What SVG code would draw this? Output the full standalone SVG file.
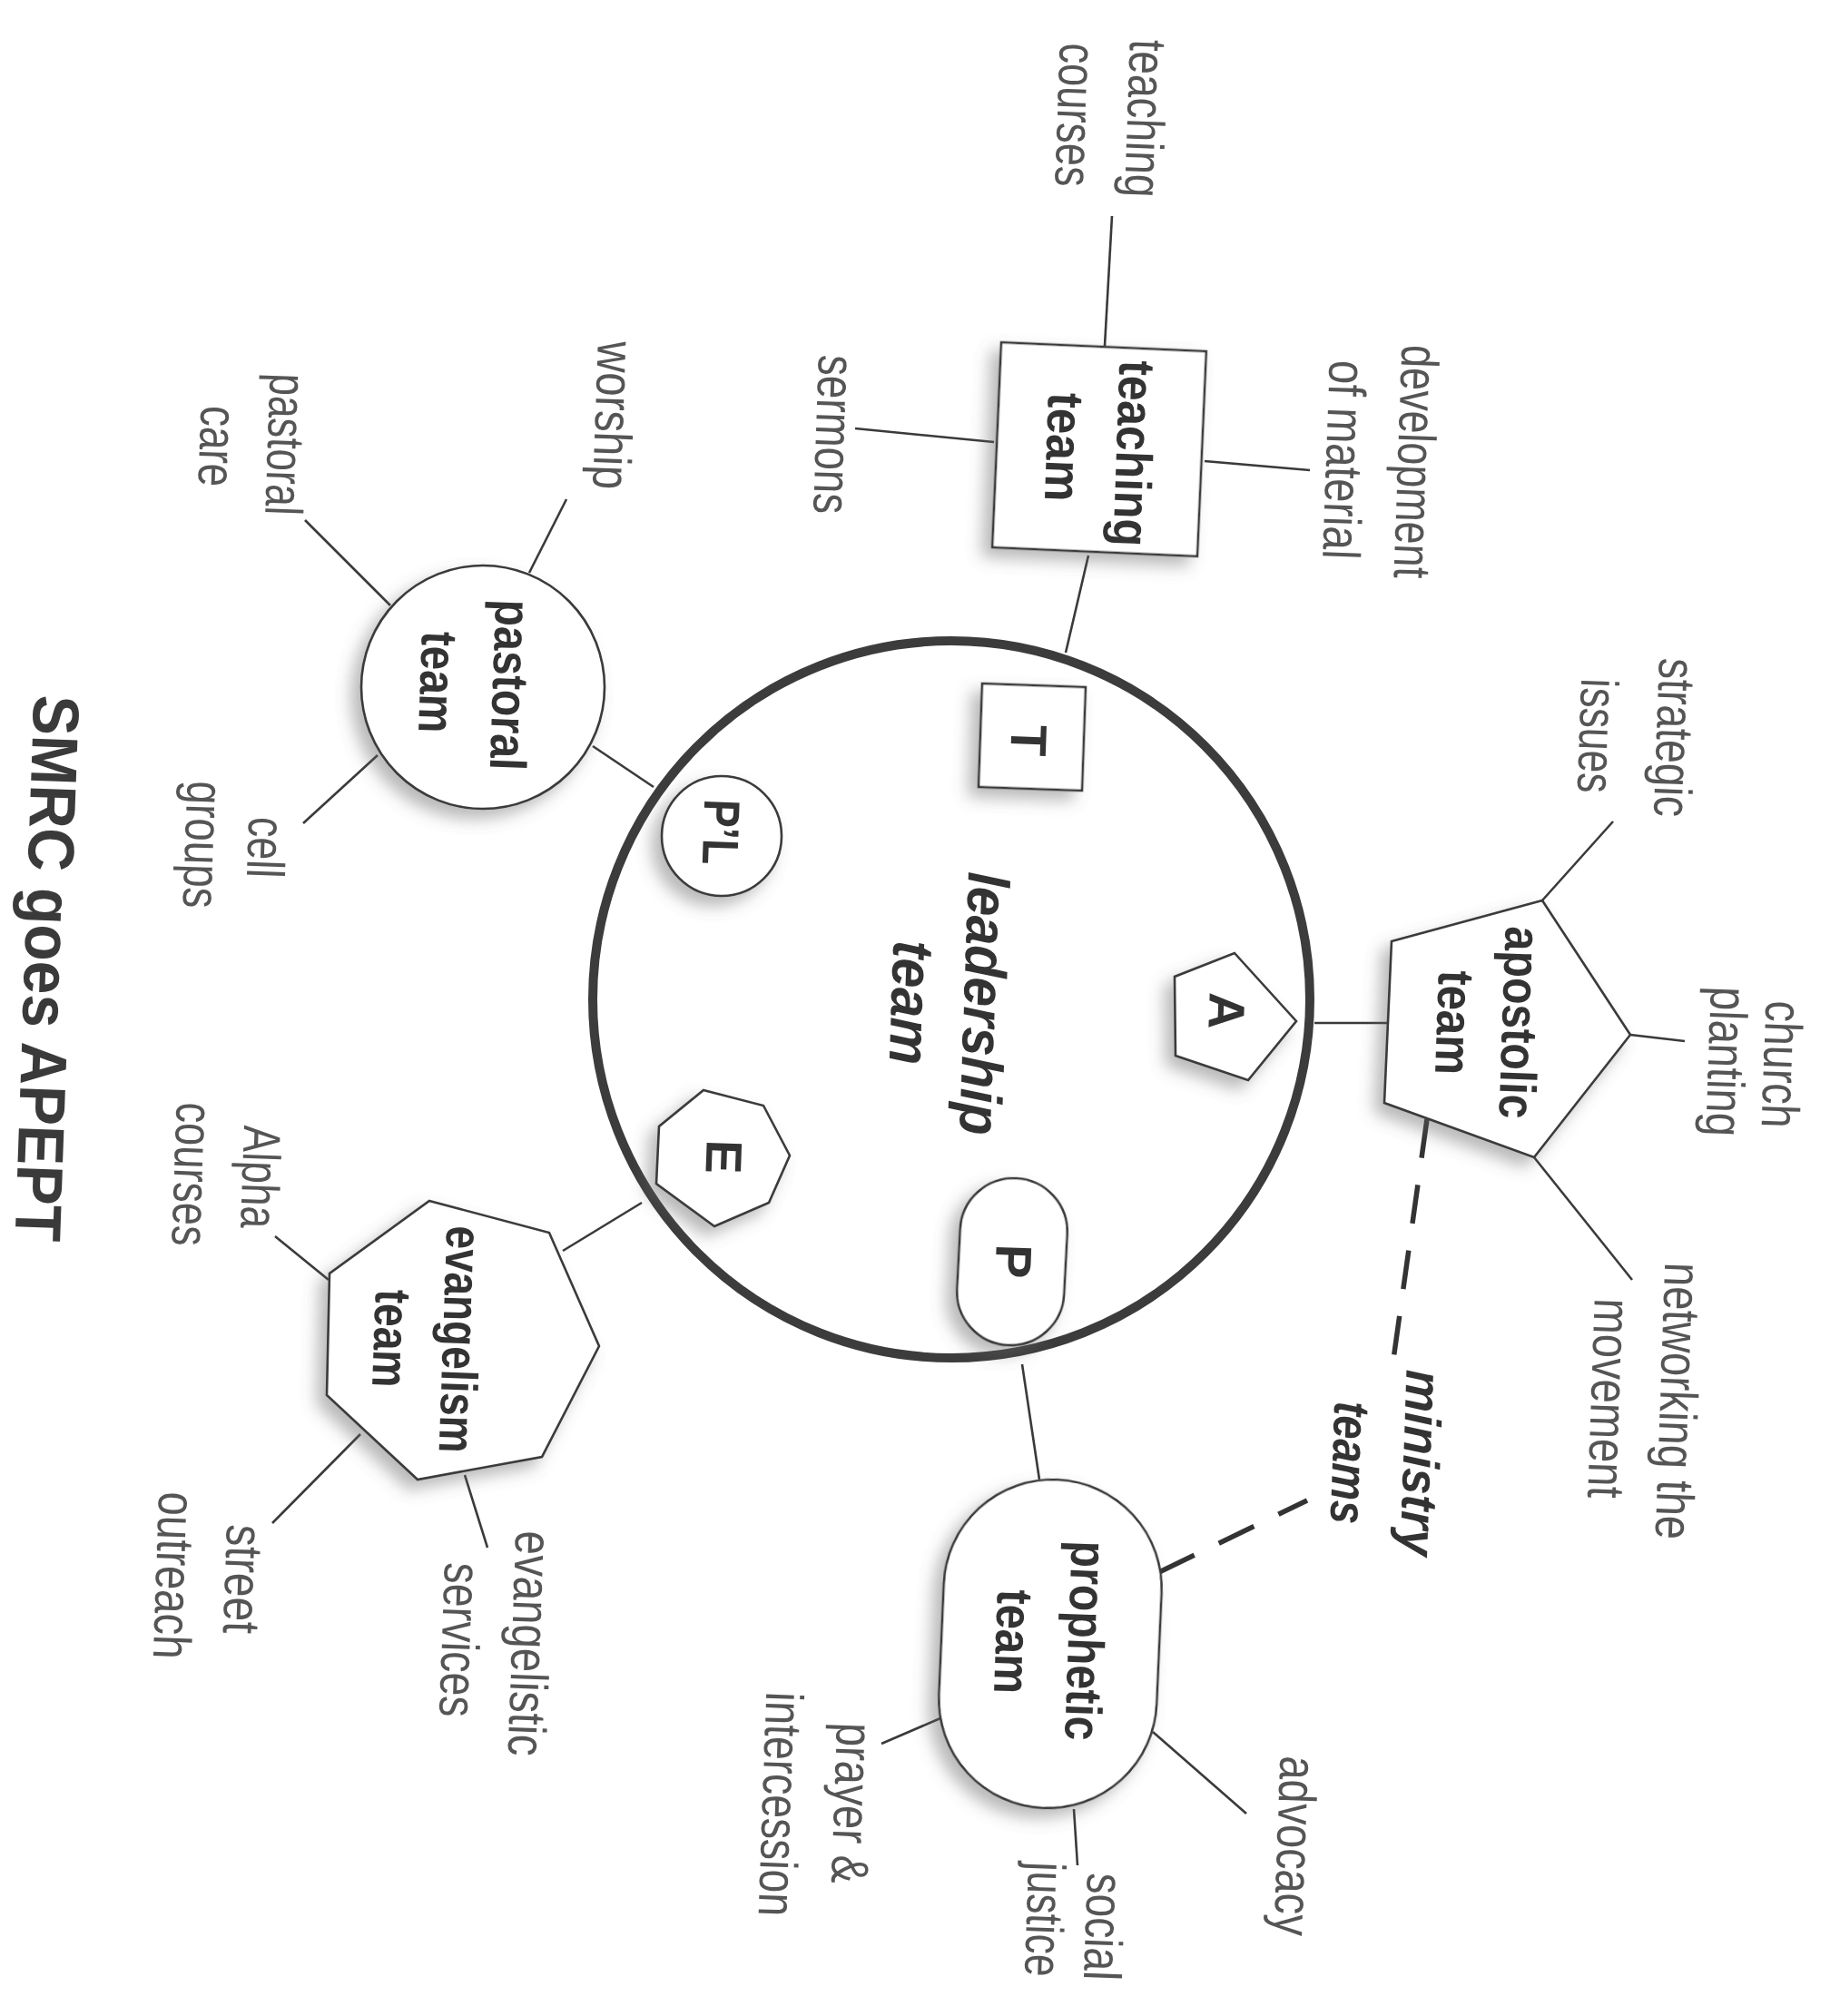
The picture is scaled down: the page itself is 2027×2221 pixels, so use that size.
<svg xmlns="http://www.w3.org/2000/svg" width="2027" height="2221" viewBox="0 0 2027 2221">
<style>
.ln{stroke:#3a3a3a;stroke-width:2.6;fill:none}
.dash{stroke:#333;stroke-width:5.5;fill:none;stroke-dasharray:43 30}
.shp{fill:#fff;stroke:#3a3a3a;stroke-width:2.6;filter:url(#sh)}
.lbl{font-family:"Liberation Sans",Arial,sans-serif;font-size:58px;fill:#555}
.nd{font-family:"Liberation Sans",Arial,sans-serif;font-size:56px;font-weight:bold;fill:#333}
.it{font-family:"Liberation Sans",Arial,sans-serif;font-weight:bold;font-style:italic;fill:#333}
.ttl{font-family:"Liberation Sans",Arial,sans-serif;font-size:72px;font-weight:bold;fill:#3a3a3a}
</style>
<defs>
<filter id="sh" x="-40%" y="-40%" width="180%" height="180%">
<feDropShadow dx="-10" dy="10" stdDeviation="9" flood-color="#606060" flood-opacity="0.45"/>
</filter>
</defs>
<rect width="2027" height="2221" fill="#fff"/>

<g id="connectors">
<path class="ln" d="M1199 612 L1174 719"/>
<path class="ln" d="M1217 381 L1225 238"/>
<path class="ln" d="M1095 487 L942 472"/>
<path class="ln" d="M1327 508 L1443 518"/>
<path class="ln" d="M653 822 L720 867"/>
<path class="ln" d="M583 631 L624 550"/>
<path class="ln" d="M430 667 L336 573"/>
<path class="ln" d="M416 832 L334 907"/>
<path class="ln" d="M620 1378 L707 1325"/>
<path class="ln" d="M362 1410 L303 1362"/>
<path class="ln" d="M397 1580 L300 1678"/>
<path class="ln" d="M512 1625 L537 1705"/>
<path class="ln" d="M1145 1630 L1126 1503"/>
<path class="ln" d="M1270 1908 L1373 1998"/>
<path class="ln" d="M1183 1993 L1187 2055"/>
<path class="ln" d="M1036 1893 L971 1921"/>
<path class="ln" d="M1448 1127 L1528 1127"/>
<path class="ln" d="M1699 992 L1777 905"/>
<path class="ln" d="M1796 1140 L1856 1147"/>
<path class="ln" d="M1690 1275 L1798 1410"/>
<path class="dash" d="M1572 1233 L1535 1498"/>
<path class="dash" d="M1277 1732 L1440 1653"/>
</g>

<g id="n-leadership">
<circle cx="1048" cy="1101" r="395" fill="#fff" stroke="#3c3c3c" stroke-width="10"/>
<text class="it" font-size="64" text-anchor="middle" transform="translate(1062 1105) rotate(92)" textLength="290" lengthAdjust="spacingAndGlyphs">leadership</text>
<text class="it" font-size="64" text-anchor="middle" transform="translate(982 1104) rotate(92)" textLength="137" lengthAdjust="spacingAndGlyphs">team</text>
</g>

<g id="n-T">
<rect class="shp" x="-57" y="-57" width="114" height="114" transform="translate(1137 812) rotate(2)"/>
<text class="nd" font-size="58" text-anchor="middle" transform="translate(1114 815) rotate(92)">T</text>
</g>
<g id="n-PL">
<circle class="shp" cx="795" cy="921" r="66"/>
<text class="nd" font-size="48" text-anchor="middle" transform="translate(775 916) rotate(92)" textLength="72" lengthAdjust="spacingAndGlyphs">P’L</text>
</g>
<g id="n-A">
<polygon class="shp" points="1360,1050 1428,1125 1375,1190 1295,1163 1294,1076"/>
<text class="nd" font-size="54" text-anchor="middle" transform="translate(1332 1113) rotate(92)">A</text>
</g>
<g id="n-E">
<polygon class="shp" points="775,1201 841,1218 870,1273 847,1325 787,1351 723,1304 726,1241"/>
<text class="nd" font-size="56" text-anchor="middle" transform="translate(778 1274) rotate(92)">E</text>
</g>
<g id="n-P">
<rect class="shp" x="-59" y="-92" width="118" height="184" rx="59" ry="59" transform="translate(1115 1390) rotate(3)"/>
<text class="nd" font-size="56" text-anchor="middle" transform="translate(1097 1389) rotate(92)">P</text>
</g>

<g id="n-teaching">
<rect class="shp" x="-113" y="-113" width="226" height="226" transform="translate(1211 495) rotate(2.5)"/>
<text class="nd" text-anchor="middle" transform="translate(1230 499) rotate(92)" textLength="205" lengthAdjust="spacingAndGlyphs">teaching</text>
<text class="nd" text-anchor="middle" transform="translate(1153 492) rotate(92)" textLength="120" lengthAdjust="spacingAndGlyphs">team</text>
</g>
<g id="n-pastoral">
<circle class="shp" cx="532" cy="757" r="134"/>
<text class="nd" text-anchor="middle" transform="translate(543 754) rotate(92)" textLength="188" lengthAdjust="spacingAndGlyphs">pastoral</text>
<text class="nd" text-anchor="middle" transform="translate(463 751) rotate(92)" textLength="112" lengthAdjust="spacingAndGlyphs">team</text>
</g>
<g id="n-evangelism">
<polygon class="shp" points="473,1323 605,1358 660,1483 597,1605 460,1630 360,1537 363,1403"/>
<text class="nd" text-anchor="middle" transform="translate(488 1475) rotate(92)" textLength="250" lengthAdjust="spacingAndGlyphs">evangelism</text>
<text class="nd" text-anchor="middle" transform="translate(412 1474) rotate(92)" textLength="108" lengthAdjust="spacingAndGlyphs">team</text>
</g>
<g id="n-prophetic">
<rect class="shp" x="-120" y="-181" width="240" height="362" rx="120" ry="120" transform="translate(1157 1811) rotate(2.5)"/>
<text class="nd" text-anchor="middle" transform="translate(1177 1807) rotate(92)" textLength="220" lengthAdjust="spacingAndGlyphs">prophetic</text>
<text class="nd" text-anchor="middle" transform="translate(1097 1808) rotate(92)" textLength="115" lengthAdjust="spacingAndGlyphs">team</text>
</g>
<g id="n-apostolic">
<polygon class="shp" points="1699,992 1796,1140 1690,1275 1525,1215 1533,1037"/>
<text class="nd" text-anchor="middle" transform="translate(1655 1126) rotate(92)" textLength="212" lengthAdjust="spacingAndGlyphs">apostolic</text>
<text class="nd" text-anchor="middle" transform="translate(1583 1126) rotate(92)" textLength="115" lengthAdjust="spacingAndGlyphs">team</text>
</g>

<g id="ministry-teams">
<text class="it" font-size="56" text-anchor="middle" transform="translate(1546 1611) rotate(92)" textLength="205" lengthAdjust="spacingAndGlyphs">ministry</text>
<text class="it" font-size="56" text-anchor="middle" transform="translate(1468 1611) rotate(92)" textLength="135" lengthAdjust="spacingAndGlyphs">teams</text>
</g>

<g id="leaf-teaching-courses">
<text class="lbl" text-anchor="middle" transform="translate(1242 130) rotate(92)" textLength="174" lengthAdjust="spacingAndGlyphs">teaching</text>
<text class="lbl" text-anchor="middle" transform="translate(1165 126) rotate(92)" textLength="158" lengthAdjust="spacingAndGlyphs">courses</text>
</g>
<g id="leaf-development">
<text class="lbl" text-anchor="middle" transform="translate(1540 508) rotate(92)" textLength="257" lengthAdjust="spacingAndGlyphs">development</text>
<text class="lbl" text-anchor="middle" transform="translate(1461 506) rotate(92)" textLength="219" lengthAdjust="spacingAndGlyphs">of material</text>
</g>
<g id="leaf-sermons">
<text class="lbl" text-anchor="middle" transform="translate(899 478) rotate(92)" textLength="175" lengthAdjust="spacingAndGlyphs">sermons</text>
</g>
<g id="leaf-worship">
<text class="lbl" text-anchor="middle" transform="translate(656 457) rotate(92)" textLength="163" lengthAdjust="spacingAndGlyphs">worship</text>
</g>
<g id="leaf-pastoral-care">
<text class="lbl" text-anchor="middle" transform="translate(295 489) rotate(92)" textLength="156" lengthAdjust="spacingAndGlyphs">pastoral</text>
<text class="lbl" text-anchor="middle" transform="translate(220 491) rotate(92)" textLength="89" lengthAdjust="spacingAndGlyphs">care</text>
</g>
<g id="leaf-cell-groups">
<text class="lbl" text-anchor="middle" transform="translate(273 933) rotate(92)" textLength="67" lengthAdjust="spacingAndGlyphs">cell</text>
<text class="lbl" text-anchor="middle" transform="translate(204 930) rotate(92)" textLength="140" lengthAdjust="spacingAndGlyphs">groups</text>
</g>
<g id="leaf-alpha">
<text class="lbl" text-anchor="middle" transform="translate(267 1296) rotate(92)" textLength="113" lengthAdjust="spacingAndGlyphs">Alpha</text>
<text class="lbl" text-anchor="middle" transform="translate(192 1293) rotate(92)" textLength="158" lengthAdjust="spacingAndGlyphs">courses</text>
</g>
<g id="leaf-street">
<text class="lbl" text-anchor="middle" transform="translate(248 1739) rotate(92)" textLength="120" lengthAdjust="spacingAndGlyphs">street</text>
<text class="lbl" text-anchor="middle" transform="translate(172 1735) rotate(92)" textLength="184" lengthAdjust="spacingAndGlyphs">outreach</text>
</g>
<g id="leaf-evangelistic">
<text class="lbl" text-anchor="middle" transform="translate(564 1810) rotate(92)" textLength="248" lengthAdjust="spacingAndGlyphs">evangelistic</text>
<text class="lbl" text-anchor="middle" transform="translate(487 1806) rotate(92)" textLength="170" lengthAdjust="spacingAndGlyphs">services</text>
</g>
<g id="leaf-prayer">
<text class="lbl" text-anchor="middle" transform="translate(919 1986) rotate(92)" textLength="177" lengthAdjust="spacingAndGlyphs">prayer &amp;</text>
<text class="lbl" text-anchor="middle" transform="translate(840 1987) rotate(92)" textLength="247" lengthAdjust="spacingAndGlyphs">intercession</text>
</g>
<g id="leaf-advocacy">
<text class="lbl" text-anchor="middle" transform="translate(1407 2033) rotate(92)" textLength="198" lengthAdjust="spacingAndGlyphs">advocacy</text>
</g>
<g id="leaf-social">
<text class="lbl" text-anchor="middle" transform="translate(1196 2122) rotate(92)" textLength="118" lengthAdjust="spacingAndGlyphs">social</text>
<text class="lbl" text-anchor="middle" transform="translate(1131 2114) rotate(92)" textLength="126" lengthAdjust="spacingAndGlyphs">justice</text>
</g>
<g id="leaf-church">
<text class="lbl" text-anchor="middle" transform="translate(1943 1172) rotate(92)" textLength="140" lengthAdjust="spacingAndGlyphs">church</text>
<text class="lbl" text-anchor="middle" transform="translate(1882 1169) rotate(92)" textLength="165" lengthAdjust="spacingAndGlyphs">planting</text>
</g>
<g id="leaf-networking">
<text class="lbl" text-anchor="middle" transform="translate(1829 1543) rotate(92)" textLength="305" lengthAdjust="spacingAndGlyphs">networking the</text>
<text class="lbl" text-anchor="middle" transform="translate(1753 1540) rotate(92)" textLength="220" lengthAdjust="spacingAndGlyphs">movement</text>
</g>
<g id="leaf-strategic">
<text class="lbl" text-anchor="middle" transform="translate(1825 812) rotate(92)" textLength="175" lengthAdjust="spacingAndGlyphs">strategic</text>
<text class="lbl" text-anchor="middle" transform="translate(1740 810) rotate(92)" textLength="126" lengthAdjust="spacingAndGlyphs">issues</text>
</g>

<g id="title">
<text class="ttl" text-anchor="middle" transform="translate(27 1066) rotate(92)" textLength="602" lengthAdjust="spacingAndGlyphs">SMRC goes APEPT</text>
</g>
</svg>
